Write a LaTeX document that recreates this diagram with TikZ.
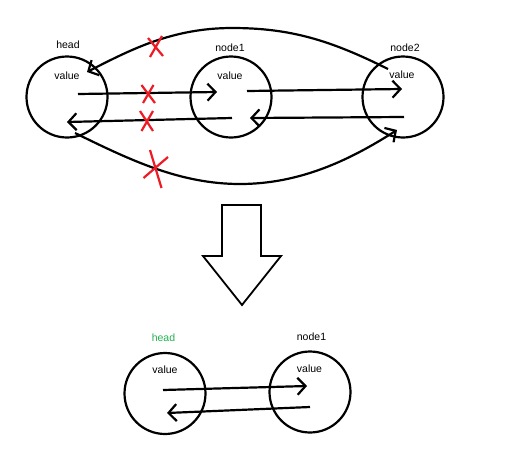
\documentclass[tikz,border=0pt]{standalone}
\usepackage{fontspec}
\setmainfont{Liberation Sans}
\usetikzlibrary{arrows.meta}
\definecolor{paintgreen}{RGB}{34,177,76}
\definecolor{xred}{RGB}{237,28,36}
\begin{document}
\begin{tikzpicture}[x=1pt,y=-1pt,
  ring/.style={draw,circle,line width=2.2pt,minimum size=81pt,inner sep=0pt},
  lbl/.style={font=\fontsize{10.5}{12}\selectfont,inner sep=0pt},
  link/.style={line width=2.2pt,-{Straight Barb[length=8pt,width=17pt]}},
  redx/.style={draw=xred,line width=2.2pt},
  bigarrow/.style={draw,line width=1.8pt,fill=white,line join=miter}]
\useasboundingbox (0,0) rectangle (512,469);
% top row nodes
\node[ring] (head) at (67,97) {};
\node[ring] (n1) at (231,97) {};
\node[ring] (n2) at (403,97) {};
\node[lbl] (headlbl) at (68,45) {head};
\node[lbl] (headval) at (67,76) {value};
\node[lbl] (n1lbl) at (230,48) {node1};
\node[lbl] (n1val) at (230,76) {value};
\node[lbl] (n2lbl) at (405,48) {node2};
\node[lbl] (n2val) at (402,75) {value};
% connector end points
\coordinate (a1s) at (78,94);
\coordinate (a1e) at (217,92);
\coordinate (a2s) at (232,118);
\coordinate (a2e) at (67,122);
\coordinate (a3s) at (247,91);
\coordinate (a3e) at (402,89);
\coordinate (a4s) at (404,117);
\coordinate (a4e) at (250,118);
\coordinate (c1s) at (388,69);
\coordinate (c1m) at (232,28);
\coordinate (c1e) at (87,72);
\coordinate (c2s) at (75,133);
\coordinate (c2m) at (240,184);
\coordinate (c2e) at (397,130);
\draw[link] (a1s) -- (a1e);
\draw[link] (a2s) -- (a2e);
\draw[link] (a3s) -- (a3e);
\draw[link] (a4s) -- (a4e);
\draw[link] (c1s) .. controls (330,40) and (290,28) .. (c1m) .. controls (172,28) and (130,50) .. (c1e);
\draw[link] (c2s) .. controls (130,160) and (180,184) .. (c2m) .. controls (300,184) and (350,160) .. (c2e);
% red crosses
\draw[redx] (148,38) -- (163,56) (162,36) -- (150,57);
\draw[redx] (141.5,85) -- (155,103) (153.5,85) -- (143,103);
\draw[redx] (140,111) -- (153,131) (153,111) -- (141.5,131);
\draw[redx] (150,150) -- (161.5,188) (168,157) -- (143.5,178);
% big down arrow
\draw[bigarrow] (222,205) -- (261,205) -- (261,256) -- (281,256) -- (242,305) -- (203,256) -- (222,256) -- cycle;
% bottom row
\node[ring] (bhead) at (165,393.5) {};
\node[ring] (bn1) at (310,392) {};
\node[lbl,text=paintgreen] (bheadlbl) at (163.5,337.5) {head};
\node[lbl] (bheadval) at (165,370) {value};
\node[lbl] (bn1lbl) at (311.5,336.5) {node1};
\node[lbl] (bn1val) at (309.5,368.5) {value};
\coordinate (b1s) at (163,390);
\coordinate (b1e) at (307,386);
\coordinate (b2s) at (310,407);
\coordinate (b2e) at (167,413);
\draw[link] (b1s) -- (b1e);
\draw[link] (b2s) -- (b2e);
\end{tikzpicture}
\end{document}
